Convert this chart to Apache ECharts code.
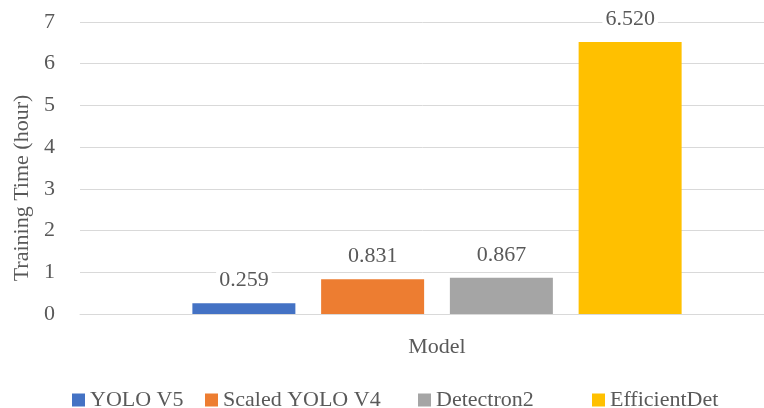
<!DOCTYPE html>
<html>
<head>
<meta charset="utf-8">
<script src="https://cdn.jsdelivr.net/npm/echarts@6/dist/echarts.min.js"></script>
<style>
  html, body { margin: 0; padding: 0; background: #fff; }
  #chart { width: 764px; height: 408px; }
</style>
</head>
<body>
<div id="chart"></div>
<script>
const categories = ['Model'];
const seriesNames = ['YOLO V5', 'Scaled YOLO V4', 'Detectron2', 'EfficientDet'];
const seriesValues = [[0.259], [0.831], [0.867], [6.520]];
const seriesColors = ['#4472C4', '#ED7D31', '#A5A5A5', '#FFC000'];
const yTicks = { min: 0, max: 7, interval: 1 };
const legendLefts = [67, 200, 413, 587];

const FONT = '"Liberation Serif", "Times New Roman", serif';
const TXT = '#595959';

const chart = echarts.init(document.getElementById('chart'));
chart.setOption({
  animation: false,
  backgroundColor: '#fff',
  textStyle: { fontFamily: FONT },
  grid: { left: 80, width: 714, top: 22, height: 292, containLabel: false, outerBoundsMode: 'none' },
  legend: seriesNames.map((n, i) => ({
    data: [n],
    left: legendLefts[i],
    top: 384,
    itemWidth: 13,
    itemHeight: 13,
    icon: 'rect',
    textStyle: { fontFamily: FONT, fontSize: 22, color: TXT }
  })),
  xAxis: {
    type: 'category',
    data: categories,
    axisLine: { lineStyle: { color: '#D9D9D9', width: 1 } },
    axisTick: { show: false },
    axisLabel: { fontFamily: FONT, fontSize: 22, color: TXT, margin: 22 }
  },
  yAxis: {
    type: 'value',
    min: yTicks.min,
    max: yTicks.max,
    interval: yTicks.interval,
    name: 'Training Time (hour)',
    nameLocation: 'middle',
    nameGap: 46,
    nameTextStyle: { fontFamily: FONT, fontSize: 22, color: TXT, padding: [0, 40, 0, 0] },
    axisLine: { show: false },
    axisTick: { show: false },
    axisLabel: { fontFamily: FONT, fontSize: 22, color: TXT, margin: 25 },
    splitLine: { lineStyle: { color: '#D9D9D9', width: 1 } }
  },
  series: seriesNames.map((n, i) => ({
    name: n,
    type: 'bar',
    data: seriesValues[i],
    barWidth: 103,
    barGap: '25%',
    itemStyle: { color: seriesColors[i] },
    label: {
      show: true,
      position: 'top',
      distance: 12,
      fontFamily: FONT,
      fontSize: 22,
      color: TXT,
      backgroundColor: '#fff',
      padding: [0, 3],
      formatter: p => p.value.toFixed(3)
    }
  }))
});
</script>
</body>
</html>
